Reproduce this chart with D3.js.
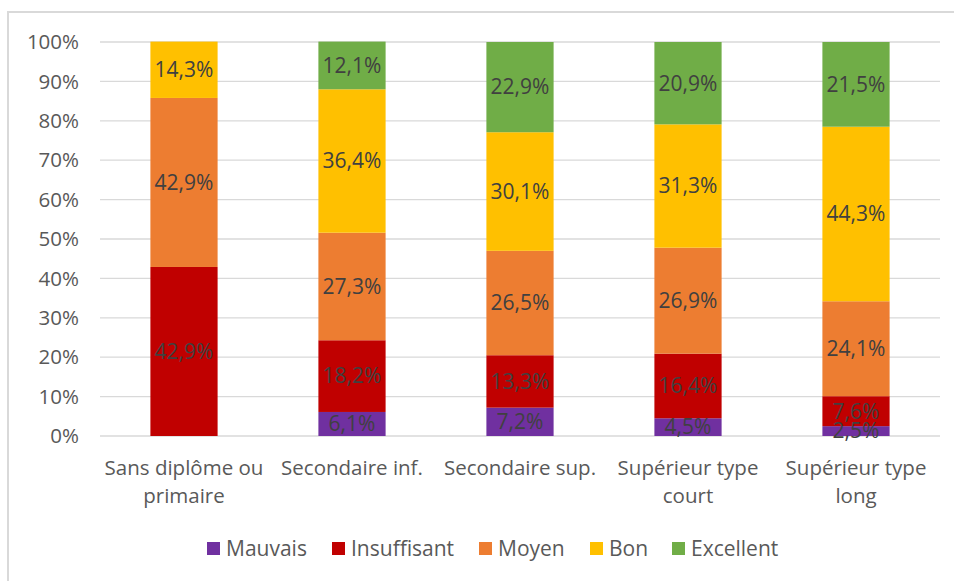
<!DOCTYPE html>
<html>
<head>
<meta charset="utf-8">
<script src="https://cdn.jsdelivr.net/npm/d3@7"></script>
<style>
  body { margin: 0; background: #fff; }
  svg text { font-family: "Open Sans", "Liberation Sans", sans-serif; }
</style>
</head>
<body>
<div id="chart"></div>
<script>
/* data */
var categories = ["Sans diplôme ou|primaire", "Secondaire inf.", "Secondaire sup.", "Supérieur type|court", "Supérieur type|long"]
var seriesNames = ["Mauvais", "Insuffisant", "Moyen", "Bon", "Excellent"]
var mauvais     = [0,    6.1,  7.2,  4.5,  2.5]
var insuffisant = [42.9, 18.2, 13.3, 16.4, 7.6]
var moyen       = [42.9, 27.3, 26.5, 26.9, 24.1]
var bon         = [14.3, 36.4, 30.1, 31.3, 44.3]
var excellent   = [0,    12.1, 22.9, 20.9, 21.5]
var yTicks = [0, 10, 20, 30, 40, 50, 60, 70, 80, 90, 100]

var seriesColors = ["#7030A0", "#C00000", "#ED7D31", "#FFC000", "#70AD47"]

/* build table for stack */
var allSeries = [mauvais, insuffisant, moyen, bon, excellent]
var table = categories.map(function(c, i) {
  var row = { cat: c }
  seriesNames.forEach(function(s, j) { row[s] = allSeries[j][i] })
  return row
})

/* layout */
var W = 954, H = 581
var plot = { left: 100, right: 940, top: 42, bottom: 436 }
var textSize = "20.5px"

var svg = d3.select("#chart").append("svg")
  .attr("width", W)
  .attr("height", H)

/* chart border */
svg.append("rect")
  .attr("x", 8).attr("y", 12)
  .attr("width", W + 10).attr("height", H + 10)
  .attr("fill", "none")
  .attr("stroke", "#d9d9d9")
  .attr("stroke-width", 2)

var x = d3.scaleBand()
  .domain(categories)
  .range([plot.left, plot.right])
  .paddingInner(0.6)
  .paddingOuter(0.3)

var y = d3.scaleLinear()
  .domain([0, 100])
  .range([plot.bottom, plot.top])

/* gridlines */
svg.append("g").selectAll("line")
  .data(yTicks)
  .join("line")
  .attr("x1", plot.left)
  .attr("x2", plot.right)
  .attr("y1", function(d) { return y(d) })
  .attr("y2", function(d) { return y(d) })
  .attr("stroke", "#d9d9d9")
  .attr("stroke-width", 1.3)

/* y labels */
svg.append("g").selectAll("text")
  .data(yTicks)
  .join("text")
  .attr("x", 79)
  .attr("y", function(d) { return y(d) })
  .attr("dy", "0.35em")
  .attr("text-anchor", "end")
  .attr("fill", "#595959")
  .style("font-size", textSize)
  .text(function(d) { return d + "%" })

/* stacked bars */
var stack = d3.stack().keys(seriesNames)
var stacked = stack(table)

var groups = svg.append("g").selectAll("g")
  .data(stacked)
  .join("g")
  .attr("fill", function(d, i) { return seriesColors[i] })

groups.selectAll("rect")
  .data(function(d) { return d })
  .join("rect")
  .attr("x", function(d) { return x(d.data.cat) })
  .attr("width", x.bandwidth())
  .attr("y", function(d) { return y(d[1]) })
  .attr("height", function(d) { return y(d[0]) - y(d[1]) })

/* value labels */
var fmt = function(v) { return v.toFixed(1).replace(".", ",") + "%" }
stacked.forEach(function(s) {
  svg.append("g").selectAll("text")
    .data(s.filter(function(d) { return d[1] - d[0] > 0 }))
    .join("text")
    .attr("x", function(d) { return x(d.data.cat) + x.bandwidth() / 2 })
    .attr("y", function(d) { return y((d[0] + d[1]) / 2) })
    .attr("dy", "0.35em")
    .attr("text-anchor", "middle")
    .attr("fill", "#404040")
    .style("font-size", "21px")
    .text(function(d) { return fmt(d[1] - d[0]) })
})

/* category labels */
var catLabels = svg.append("g").selectAll("text")
  .data(categories)
  .join("text")
  .attr("x", function(d) { return x(d) + x.bandwidth() / 2 })
  .attr("y", 468)
  .attr("text-anchor", "middle")
  .attr("fill", "#595959")
  .style("font-size", textSize)
catLabels.each(function(d) {
  var parts = d.split("|")
  var t = d3.select(this)
  parts.forEach(function(p, i) {
    t.append("tspan")
      .attr("x", x(d) + x.bandwidth() / 2)
      .attr("dy", i == 0 ? "0.35em" : "28px")
      .text(p)
  })
})

/* legend */
var legendX = [207, 332, 479, 590, 672]
var legend = svg.append("g").selectAll("g")
  .data(seriesNames)
  .join("g")
  .attr("transform", function(d, i) { return "translate(" + legendX[i] + ",549)" })
legend.append("rect")
  .attr("x", 0).attr("y", -7)
  .attr("width", 13).attr("height", 13)
  .attr("fill", function(d, i) { return seriesColors[i] })
legend.append("text")
  .attr("x", 19)
  .attr("dy", "0.35em")
  .attr("fill", "#595959")
  .style("font-size", "21px")
  .text(function(d) { return d })
</script>
</body>
</html>
